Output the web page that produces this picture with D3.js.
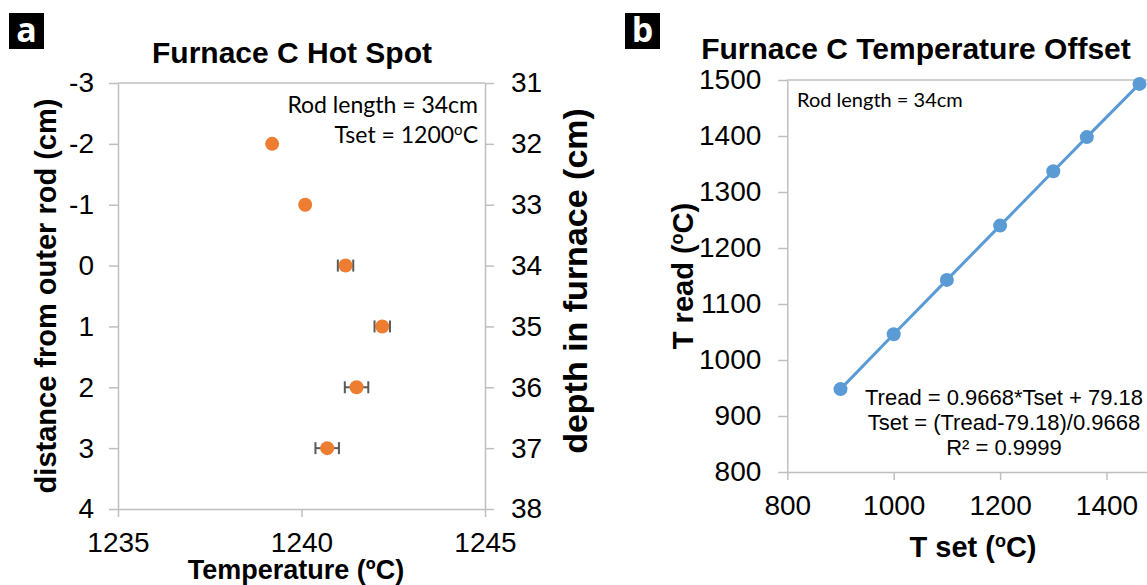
<!DOCTYPE html>
<html>
<head>
<meta charset="utf-8">
<script src="https://cdn.jsdelivr.net/npm/d3@7"></script>
<style>
  body { margin: 0; background: #fff; }
  svg { display: block; }
</style>
</head>
<body>
<svg id="chart" width="1147" height="585"></svg>
<script>
// ---- panel a : hot spot ----
var distTicks = [-3, -2, -1, 0, 1, 2, 3, 4];
var depthTicks = [31, 32, 33, 34, 35, 36, 37, 38];
var tempTicks = [1235, 1240, 1245];
var hotDist = [-2, -1, 0, 1, 2, 3];
var hotTemp = [1239.2, 1240.1, 1241.2, 1242.2, 1241.5, 1240.7];
var hotErr = [0, 0, 0.21, 0.21, 0.32, 0.32];

// ---- panel b : temperature offset ----
var tSet = [900, 1000, 1100, 1200, 1300, 1363, 1462];
var tRead = [948, 1046, 1143, 1240, 1337, 1398, 1493];
var tSetTicks = [800, 1000, 1200, 1400];
var tReadTicks = [800, 900, 1000, 1100, 1200, 1300, 1400, 1500];

var arial = "'Liberation Sans', Arial, sans-serif";
var calibri = "Lato, Carlito, Calibri, sans-serif";
var axisGray = "#bfbfbf";
var plain = function (d) { return String(d); };   // keeps "-3" with a hyphen like excel

var svg = d3.select("#chart");

function styleAxis(g, size) {
  g.select(".domain").attr("stroke", axisGray).attr("stroke-width", 1.5);
  g.selectAll(".tick line").attr("stroke", axisGray).attr("stroke-width", 1.5);
  g.selectAll(".tick text").attr("fill", "#000")
    .style("font-family", arial).style("font-size", size + "px");
}

function panelLabel(x, y, t) {
  svg.append("rect").attr("x", x).attr("y", y).attr("width", 35).attr("height", 36).attr("fill", "#000");
  svg.append("text").attr("x", x + 17.5).attr("y", y + 29)
    .attr("text-anchor", "middle").attr("fill", "#fff")
    .style("font-family", "'Open Sans', sans-serif").style("font-weight", "bold").style("font-size", "34px")
    .text(t);
}

// ================= panel a =================
var xA = d3.scaleLinear().domain([1235, 1245]).range([118, 485]);
var yA = d3.scaleLinear().domain([-3, 4]).range([83, 509]);
var yA2 = d3.scaleLinear().domain([31, 38]).range([83, 509]);

var ga = svg.append("g");

// frame top line
ga.append("line")
  .attr("x1", xA.range()[0]).attr("x2", xA.range()[1])
  .attr("y1", yA(-3)).attr("y2", yA(-3))
  .attr("stroke", axisGray).attr("stroke-width", 1.5);

ga.append("g").attr("transform", "translate(" + xA.range()[0] + ",0)")
  .call(d3.axisLeft(yA).tickValues(distTicks).tickSize(9).tickSizeOuter(0).tickPadding(15).tickFormat(plain))
  .call(styleAxis, 28);

ga.append("g").attr("transform", "translate(" + xA.range()[1] + ",0)")
  .call(d3.axisRight(yA2).tickValues(depthTicks).tickSize(9).tickSizeOuter(0).tickPadding(17).tickFormat(plain))
  .call(styleAxis, 28);

ga.append("g").attr("transform", "translate(0," + yA.range()[1] + ")")
  .call(d3.axisBottom(xA).tickValues(tempTicks).tickSize(8).tickSizeOuter(0).tickPadding(15).tickFormat(plain))
  .call(styleAxis, 28);

// error bars
var hot = hotDist.map(function (d, i) { return { d: d, t: hotTemp[i], e: hotErr[i] }; });
var eb = ga.selectAll(".err").data(hot.filter(function (p) { return p.e > 0; })).enter().append("g")
  .attr("stroke", "#595959").attr("stroke-width", 2);
eb.append("line")
  .attr("x1", function (p) { return xA(p.t - p.e); }).attr("x2", function (p) { return xA(p.t + p.e); })
  .attr("y1", function (p) { return yA(p.d); }).attr("y2", function (p) { return yA(p.d); });
eb.append("line")
  .attr("x1", function (p) { return xA(p.t - p.e); }).attr("x2", function (p) { return xA(p.t - p.e); })
  .attr("y1", function (p) { return yA(p.d) - 6; }).attr("y2", function (p) { return yA(p.d) + 6; });
eb.append("line")
  .attr("x1", function (p) { return xA(p.t + p.e); }).attr("x2", function (p) { return xA(p.t + p.e); })
  .attr("y1", function (p) { return yA(p.d) - 6; }).attr("y2", function (p) { return yA(p.d) + 6; });

ga.selectAll(".pt").data(hot).enter().append("circle")
  .attr("cx", function (p) { return xA(p.t); })
  .attr("cy", function (p) { return yA(p.d); })
  .attr("r", 7).attr("fill", "#ed7d31");

// titles
ga.append("text").attr("x", 292).attr("y", 63).attr("text-anchor", "middle")
  .style("font-family", arial).style("font-weight", "bold").style("font-size", "30px")
  .text("Furnace C Hot Spot");

ga.append("text").attr("x", 296).attr("y", 579).attr("text-anchor", "middle")
  .style("font-family", arial).style("font-weight", "bold").style("font-size", "27px")
  .text("Temperature (ºC)");

ga.append("text").attr("transform", "translate(46,296) rotate(-90)").attr("dy", "0.35em")
  .attr("text-anchor", "middle")
  .style("font-family", arial).style("font-weight", "bold").style("font-size", "29px")
  .text("distance from outer rod (cm)");

ga.append("text").attr("transform", "translate(575,281) rotate(-90)").attr("dy", "0.35em")
  .attr("text-anchor", "middle")
  .style("font-family", arial).style("font-weight", "bold").style("font-size", "34px")
  .text("depth in furnace (cm)");

ga.append("text").attr("x", 478).attr("y", 113).attr("text-anchor", "end")
  .style("font-family", calibri).style("font-size", "23px")
  .text("Rod length = 34cm");
var ts = ga.append("text").attr("x", 478).attr("y", 143).attr("text-anchor", "end")
  .style("font-family", calibri).style("font-size", "23px");
ts.append("tspan").text("Tset = 1200");
ts.append("tspan").attr("dy", -8).style("font-size", "15px").text("o");
ts.append("tspan").attr("dy", 8).text("C");

panelLabel(9, 13, "a");

// ================= panel b =================
var xB = d3.scaleLinear().domain([800, 1500]).range([787.3, 1159.7]);
var yB = d3.scaleLinear().domain([800, 1500]).range([472, 80]);

var gb = svg.append("g");

gb.append("line")
  .attr("x1", xB.range()[0]).attr("x2", xB.range()[1])
  .attr("y1", yB(1500)).attr("y2", yB(1500))
  .attr("stroke", axisGray).attr("stroke-width", 1.5);

gb.append("g").attr("transform", "translate(" + xB.range()[0] + ",0)")
  .call(d3.axisLeft(yB).tickValues(tReadTicks).tickSize(9).tickSizeOuter(0).tickPadding(17).tickFormat(plain))
  .call(styleAxis, 28);

gb.append("g").attr("transform", "translate(0," + yB.range()[0] + ")")
  .call(d3.axisBottom(xB).tickValues(tSetTicks).tickSize(8).tickSizeOuter(0).tickPadding(15).tickFormat(plain))
  .call(styleAxis, 28);

var off = tSet.map(function (d, i) { return [d, tRead[i]]; });
gb.append("path").datum(off)
  .attr("d", d3.line().x(function (p) { return xB(p[0]); }).y(function (p) { return yB(p[1]); }))
  .attr("fill", "none").attr("stroke", "#5b9bd5").attr("stroke-width", 3);
gb.selectAll(".pt").data(off).enter().append("circle")
  .attr("cx", function (p) { return xB(p[0]); })
  .attr("cy", function (p) { return yB(p[1]); })
  .attr("r", 7).attr("fill", "#5b9bd5");

gb.append("text").attr("x", 916).attr("y", 59).attr("text-anchor", "middle")
  .style("font-family", arial).style("font-weight", "bold").style("font-size", "30px")
  .text("Furnace C Temperature Offset");

var tx = gb.append("text").attr("x", 973).attr("y", 557).attr("text-anchor", "middle")
  .style("font-family", arial).style("font-weight", "bold").style("font-size", "29px");
tx.append("tspan").text("T set (");
tx.append("tspan").attr("dy", -10).style("font-size", "18px").text("o");
tx.append("tspan").attr("dy", 10).text("C)");

var ty = gb.append("text").attr("transform", "translate(683,276) rotate(-90)").attr("dy", "0.35em")
  .attr("text-anchor", "middle")
  .style("font-family", arial).style("font-weight", "bold").style("font-size", "29px");
ty.append("tspan").text("T read (");
ty.append("tspan").attr("dy", -10).style("font-size", "18px").text("o");
ty.append("tspan").attr("dy", 10).text("C)");

gb.append("text").attr("x", 797).attr("y", 107)
  .style("font-family", calibri).style("font-size", "20px")
  .text("Rod length = 34cm");

var eq = ["Tread = 0.9668*Tset + 79.18", "Tset = (Tread-79.18)/0.9668", "R² = 0.9999"];
gb.selectAll(".eq").data(eq).enter().append("text")
  .attr("x", 1004).attr("y", function (d, i) { return 405 + i * 25; })
  .attr("text-anchor", "middle")
  .style("font-family", arial).style("font-size", "22px")
  .text(function (d) { return d; });

panelLabel(625, 13, "b");
</script>
</body>
</html>
